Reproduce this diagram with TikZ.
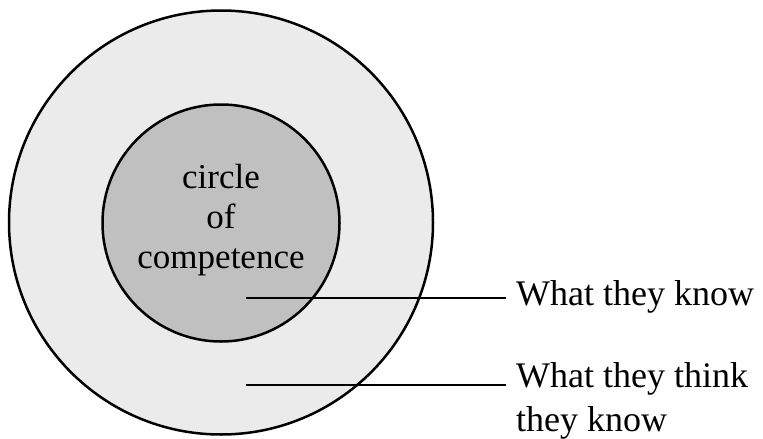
\documentclass[tikz,border=0pt]{standalone}
\usepackage{fontspec}
\setmainfont{Liberation Serif}
\begin{document}
\begin{tikzpicture}[x=1pt,y=-1pt,
  ring/.style={circle, draw=black, line width=2.5pt, inner sep=0pt},
  caption/.style={font=\fontsize{35}{40}\selectfont, align=center, inner sep=0pt},
  lbl/.style={font=\fontsize{36}{44}\selectfont, align=left, anchor=base west,
              inner xsep=10pt, inner ysep=0pt},
  leader/.style={draw=black, line width=1.5pt}]
  \useasboundingbox (0,0) rectangle (763,439);
  % nested circles
  \node[ring, fill={rgb,255:red,235;green,235;blue,235}, minimum size=424pt] (outer) at (221,222.5) {};
  \node[ring, fill={rgb,255:red,192;green,192;blue,192}, minimum size=237pt] (inner) at (221,223) {};
  % the base anchor of a multi-line node sits on its last line
  \node[caption, anchor=base] (core) at (221,268) {circle\\of\\competence};
  % labels on the right
  \node[lbl] (know) at (506,305) {What they know};
  \node[lbl] (think) at (506,431) {What they think\\they know};
  \coordinate (k1) at (246,298);
  \coordinate (k2) at (246,385);
  \draw[leader] (k1) -- (k1 -| know.west);
  \draw[leader] (k2) -- (k2 -| think.west);
\end{tikzpicture}
\end{document}
